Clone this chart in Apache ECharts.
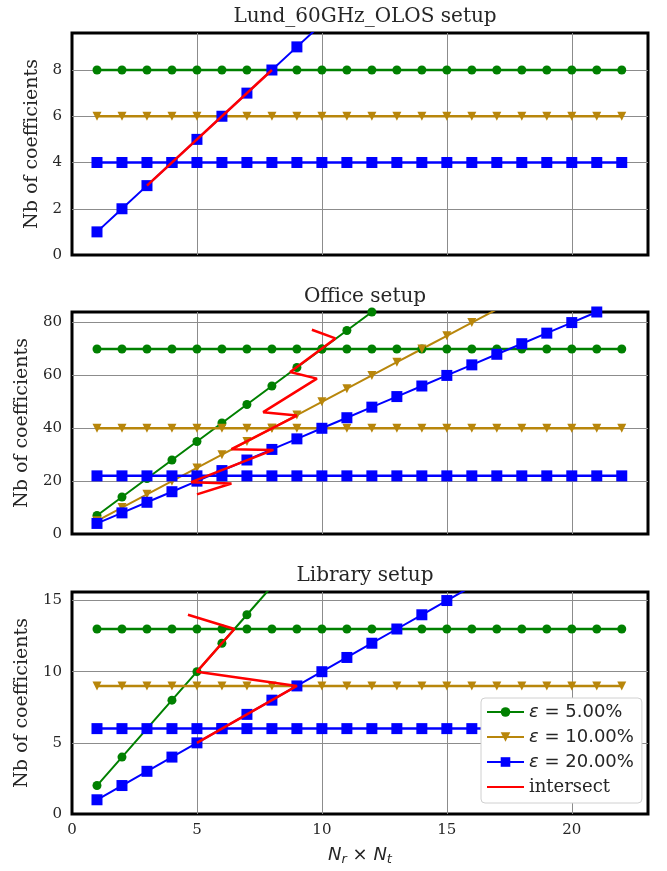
<!DOCTYPE html>
<html><head><meta charset="utf-8">
<script src="https://cdn.jsdelivr.net/npm/echarts@6/dist/echarts.min.js"></script>
<style>html,body{margin:0;padding:0;background:#fff}#c{width:667px;height:871px}</style>
</head><body><div id="c"></div>
<script>
// ---------- data ----------
const xs = [1,2,3,4,5,6,7,8,9,10,11,12,13,14,15,16,17,18,19,20,21,22];
const titles = ['Lund_60GHz_OLOS setup', 'Office setup', 'Library setup'];
const yMax = [9.6, 84, 15.6];
const yInterval = [2, 20, 5];
const xTicks = [0, 5, 10, 15, 20];

// Lund_60GHz_OLOS
const lundFlat5  = [8,8,8,8,8,8,8,8,8,8,8,8,8,8,8,8,8,8,8,8,8,8];
const lundFlat10 = [6,6,6,6,6,6,6,6,6,6,6,6,6,6,6,6,6,6,6,6,6,6];
const lundFlat20 = [4,4,4,4,4,4,4,4,4,4,4,4,4,4,4,4,4,4,4,4,4,4];
const lundSlope20 = [1,2,3,4,5,6,7,8,9,10,11];
const lundIntersect = [[3,3],[8,8]];

// Office
const officeFlat5  = [70,70,70,70,70,70,70,70,70,70,70,70,70,70,70,70,70,70,70,70,70,70];
const officeFlat10 = [40,40,40,40,40,40,40,40,40,40,40,40,40,40,40,40,40,40,40,40,40,40];
const officeFlat20 = [22,22,22,22,22,22,22,22,22,22,22,22,22,22,22,22,22,22,22,22,22,22];
const officeSlope5  = [7,14,21,28,35,42,49,56,63,70,77,84,91];
const officeSlope10 = [5,10,15,20,25,30,35,40,45,50,55,60,65,70,75,80,85,90];
const officeSlope20 = [4,8,12,16,20,24,28,32,36,40,44,48,52,56,60,64,68,72,76,80,84,88];
const officeIntersect = [[5,15],[6.38,19.1],[4.77,19.6],[8.06,31.8],[6.38,32.1],[9.0,44.8],[7.65,46.1],[9.8,58.8],[8.73,61.3],[10.54,74],[9.6,77.3]];

// Library
const libFlat5  = [13,13,13,13,13,13,13,13,13,13,13,13,13,13,13,13,13,13,13,13,13,13];
const libFlat10 = [9,9,9,9,9,9,9,9,9,9,9,9,9,9,9,9,9,9,9,9,9,9];
const libFlat20 = [6,6,6,6,6,6,6,6,6,6,6,6,6,6,6,6,6,6,6,6,6,6];
const libSlope5  = [2,4,6,8,10,12,14,16];
const libSlope20 = [1,2,3,4,5,6,7,8,9,10,11,12,13,14,15,16];
const libIntersect = [[5,5],[9,9],[5,10],[6.5,13],[4.64,14]];

const legendNames = ['e5', 'e10', 'e20', 'intersect'];
const legendLabels = {e5: '{i|ε} = 5.00%', e10: '{i|ε} = 10.00%', e20: '{i|ε} = 20.00%', intersect: '{s|intersect}'};

// ---------- styles ----------
const C5 = '#008000', C10 = '#b8860b', C20 = '#0000ff', CR = '#ff0000';
const styles = {
  e5:  {color: C5,  symbol: 'circle',   size: 9,  rot: 0},
  e10: {color: C10, symbol: 'triangle', size: 9,  rot: 180},
  e20: {color: C20, symbol: 'rect',     size: 11, rot: 0}
};
const serif = 'DejaVu Serif';
const textColor = '#262626';

function pairs(vals) { return vals.map((v, i) => [xs[i], v]); }

const panels = [
  {flat: [lundFlat5, lundFlat10, lundFlat20], slope: [null, null, lundSlope20], inter: lundIntersect},
  {flat: [officeFlat5, officeFlat10, officeFlat20], slope: [officeSlope5, officeSlope10, officeSlope20], inter: officeIntersect},
  {flat: [libFlat5, libFlat10, libFlat20], slope: [libSlope5, null, libSlope20], inter: libIntersect}
];

const gridTops = [33, 312, 592];
const gridH = 222;
const nameGaps = [25, 37, 37];
const titleTops = [2, 282, 561];

const grids = [], xAxes = [], yAxes = [], series = [], titleOpts = [];
panels.forEach((p, k) => {
  grids.push({left: 72, right: 19, top: gridTops[k], height: gridH, show: true,
    borderColor: '#000', borderWidth: 3, backgroundColor: '#fff'});
  titleOpts.push({text: titles[k], left: 360, textAlign: 'center', top: titleTops[k],
    textStyle: {fontFamily: serif, fontSize: 20, fontWeight: 'normal', color: textColor}});
  const bottom = k === 2;
  xAxes.push({type: 'value', gridIndex: k, min: 0, max: 23.05, interval: 5,
    axisLine: {show: false}, axisTick: {show: false},
    axisLabel: {show: bottom, fontFamily: serif, fontSize: 15, color: textColor, margin: 9, showMaxLabel: false,
      formatter: v => xTicks.includes(v) ? String(v) : ''},
    splitLine: {show: true, showMinLine: false, showMaxLine: false, lineStyle: {color: '#8c8c8c', width: 1}},
    name: bottom ? '{i|N}{sub|r} × {i|N}{sub|t}' : '', nameLocation: 'middle', nameGap: 30,
    nameTextStyle: {fontFamily: 'DejaVu Sans', fontSize: 18, color: textColor,
      rich: {i: {fontFamily: 'DejaVu Sans', fontStyle: 'italic', fontSize: 18, color: textColor},
             sub: {fontFamily: 'DejaVu Sans', fontStyle: 'italic', fontSize: 13, color: textColor, padding: [9, 0, 0, 0]}}}
  });
  yAxes.push({type: 'value', gridIndex: k, min: 0, max: yMax[k], interval: yInterval[k],
    axisLine: {show: false}, axisTick: {show: false},
    axisLabel: {fontFamily: serif, fontSize: 15, color: textColor, margin: 10, showMaxLabel: false},
    splitLine: {show: true, showMinLine: false, showMaxLine: false, lineStyle: {color: '#8c8c8c', width: 1}},
    name: 'Nb of coefficients', nameLocation: 'middle', nameGap: nameGaps[k],
    nameTextStyle: {fontFamily: serif, fontSize: 19, color: textColor}
  });
  ['e5', 'e10', 'e20'].forEach((key, j) => {
    const s = styles[key];
    series.push({type: 'line', name: key, xAxisIndex: k, yAxisIndex: k, data: pairs(p.flat[j]),
      symbol: s.symbol, symbolSize: s.size, symbolRotate: s.rot, showSymbol: true,
      itemStyle: {color: s.color}, lineStyle: {color: s.color, width: 2.5}, animation: false, z: 3});
    if (p.slope[j]) {
      series.push({type: 'line', name: key, xAxisIndex: k, yAxisIndex: k, data: pairs(p.slope[j]),
        symbol: s.symbol, symbolSize: s.size, symbolRotate: s.rot, showSymbol: true,
        itemStyle: {color: s.color}, lineStyle: {color: s.color, width: 2}, animation: false, z: 3});
    }
  });
  series.push({type: 'line', name: 'intersect', xAxisIndex: k, yAxisIndex: k, data: p.inter,
    symbol: 'none', lineStyle: {color: CR, width: 2.5}, itemStyle: {color: CR}, animation: false, z: 4});
});

const chart = echarts.init(document.getElementById('c'), null, {renderer: 'canvas'});
chart.setOption({
  animation: false,
  backgroundColor: '#fff',
  title: titleOpts,
  grid: grids, xAxis: xAxes, yAxis: yAxes, series: series,
  legend: {
    data: [{name: 'e5'}, {name: 'e10'}, {name: 'e20'}, {name: 'intersect', itemStyle: {opacity: 0}}],
    orient: 'vertical', left: 481, top: 698, width: 159,
    padding: [4, 8, 6, 5], itemGap: 5, itemWidth: 37, itemHeight: 12,
    backgroundColor: '#fff', borderColor: '#d0d0d0', borderWidth: 1, borderRadius: 4,
    formatter: n => legendLabels[n],
    textStyle: {fontFamily: 'DejaVu Sans', fontSize: 18, lineHeight: 20, color: textColor,
      rich: {i: {fontFamily: 'DejaVu Sans', fontStyle: 'italic', fontSize: 18, lineHeight: 20, color: textColor},
             s: {fontFamily: serif, fontSize: 18, lineHeight: 20, color: textColor}}}
  }
});
</script></body></html>
